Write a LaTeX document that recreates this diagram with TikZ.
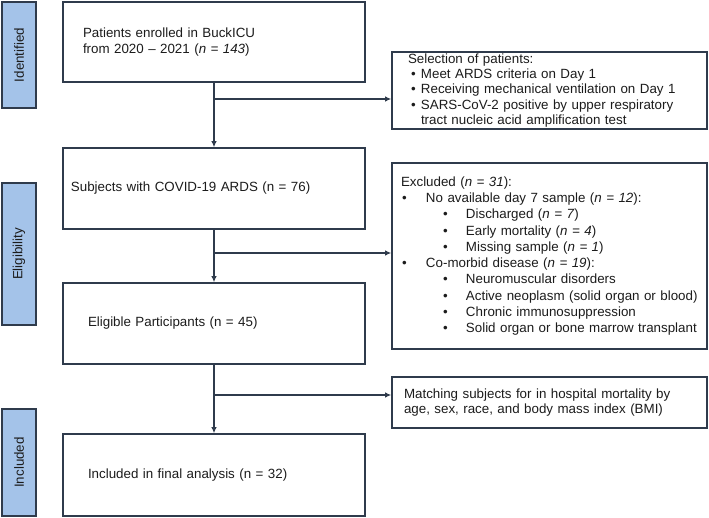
\documentclass[tikz,border=0pt]{standalone}
\usepackage{fontspec}
\setmainfont{Liberation Sans}
\usetikzlibrary{arrows.meta}
\definecolor{edge}{HTML}{2F3B4C}
\definecolor{sidefill}{HTML}{A4C3E9}
\definecolor{ink}{HTML}{1C1C1C}
\tikzset{
  box/.style={draw=edge, line width=1.6bp, rectangle, fill=white, text=ink, align=left, inner ysep=0pt, font=\fontsize{13.4}{16}\selectfont},
  side/.style={draw=edge, line width=1.6bp, rectangle, fill=sidefill, text=ink, rotate=90, inner sep=0pt, font=\fontsize{13.4}{16}\selectfont},
  conn/.style={draw=edge, line width=1.6bp},
  arr/.style={conn, -{Latex[length=6bp,width=5.5bp]}},
}
\newcommand{\bl}{\makebox[0pt][l]{\textbullet}}
\begin{document}
\begin{tikzpicture}[x=1bp,y=-1bp]
\useasboundingbox (0,0) rectangle (709,518);
% side labels
\node[side, minimum width=106bp, minimum height=34bp] (sid) at (19,55) {Identified};
\node[side, minimum width=142bp, minimum height=34bp] (sel2) at (19,254) {Eligibility};
\node[side, minimum width=107bp, minimum height=34bp] (sinc) at (19,462.5) {Included};
% main boxes
\node[box, minimum width=302bp, minimum height=80bp, inner xsep=20bp, text width=262bp] (b1) at (214,42)
  {Patients enrolled in BuckICU\\from 2020 -- 2021 (\textit{n = 143})};
\node[box, minimum width=302bp, minimum height=81bp, inner xsep=8bp, text width=286bp] (b2) at (214,188.5)
  {Subjects with COVID-19 ARDS (n = 76)};
\node[box, minimum width=302bp, minimum height=81bp, inner xsep=25bp, text width=252bp] (b3) at (214,323.5)
  {Eligible Participants (n = 45)};
\node[box, minimum width=302bp, minimum height=82bp, inner xsep=25bp, text width=252bp] (b4) at (214,475)
  {Included in final analysis (n = 32)};
% side boxes
\node[box, minimum width=315bp, minimum height=77bp, inner xsep=16bp, text width=283bp,
      font=\fontsize{13.4}{15.5}\selectfont] (sel) at (549.5,90.5)
  {Selection of patients:\\
   \hspace*{3bp}\bl\hspace*{10bp}Meet ARDS criteria on Day 1\\
   \hspace*{3bp}\bl\hspace*{10bp}Receiving mechanical ventilation on Day 1\\
   \hspace*{3bp}\bl\hspace*{10bp}SARS-CoV-2 positive by upper respiratory\\
   \hspace*{13bp}tract nucleic acid amplification test};
\node[box, minimum width=315bp, minimum height=186bp, inner xsep=9bp, text width=297bp,
      font=\fontsize{13.4}{16.3}\selectfont] (excl) at (549.5,256)
  {Excluded (\textit{n = 31}):\\
   \hspace*{1bp}\bl\hspace*{24bp}No available day 7 sample (\textit{n = 12}):\\
   \hspace*{42bp}\bl\hspace*{23bp}Discharged (\textit{n = 7})\\
   \hspace*{42bp}\bl\hspace*{23bp}Early mortality (\textit{n = 4})\\
   \hspace*{42bp}\bl\hspace*{23bp}Missing sample (\textit{n = 1})\\
   \hspace*{1bp}\bl\hspace*{24bp}Co-morbid disease (\textit{n = 19}):\\
   \hspace*{42bp}\bl\hspace*{23bp}Neuromuscular disorders\\
   \hspace*{42bp}\bl\hspace*{23bp}Active neoplasm (solid organ or blood)\\
   \hspace*{42bp}\bl\hspace*{23bp}Chronic immunosuppression\\
   \hspace*{42bp}\bl\hspace*{23bp}Solid organ or bone marrow transplant};
\node[box, minimum width=315bp, minimum height=51bp, inner xsep=12bp, text width=291bp,
      font=\fontsize{13.4}{15.5}\selectfont] (match) at (549.5,402.5)
  {Matching subjects for in hospital mortality by\\age, sex, race, and body mass index (BMI)};
% junctions
\coordinate (j1) at (214,99);
\coordinate (j2) at (214,253);
\coordinate (j3) at (214,395);
% connectors
\draw[arr] (b1) -- (b2);
\draw[arr] (b2) -- (b3);
\draw[arr] (b3) -- (b4);
\draw[arr] (j1) -- (j1 -| sel.west);
\draw[arr] (j2) -- (j2 -| excl.west);
\draw[arr] (j3) -- (j3 -| match.west);
\end{tikzpicture}
\end{document}
